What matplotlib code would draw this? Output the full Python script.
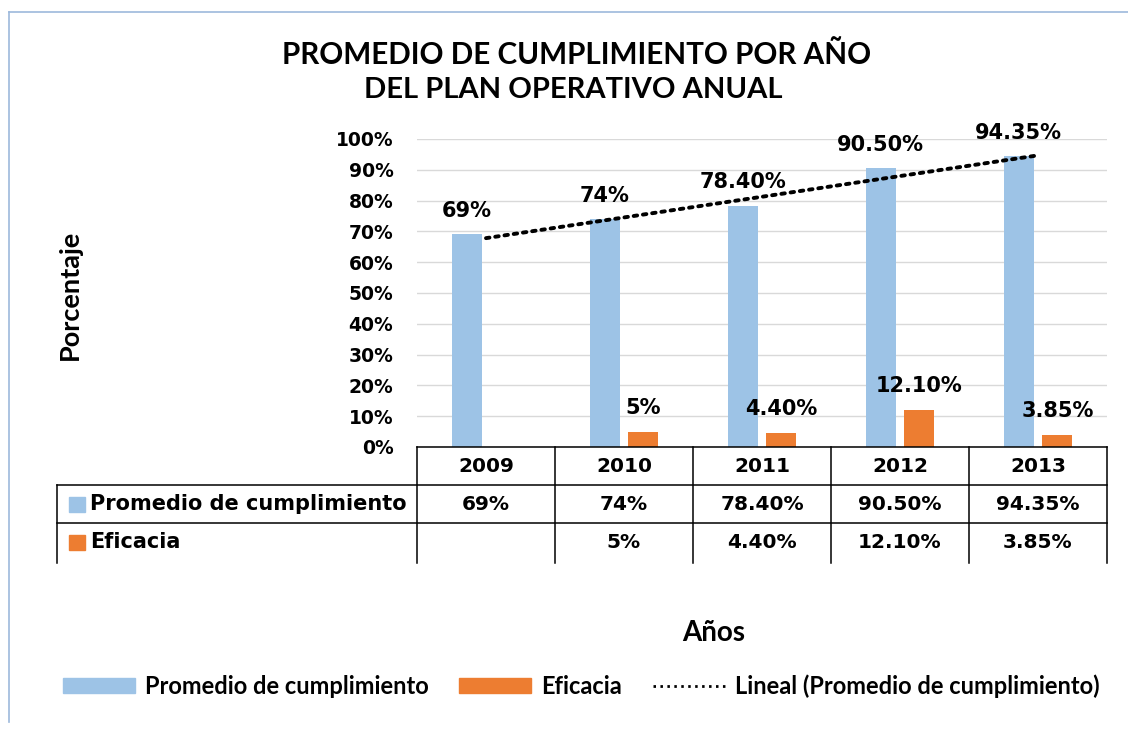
import numpy as np
import matplotlib
matplotlib.use("Agg")
import matplotlib.pyplot as plt
from matplotlib.lines import Line2D
from matplotlib.patches import Patch, Rectangle
from matplotlib.transforms import blended_transform_factory

years = ["2009", "2010", "2011", "2012", "2013"]
promedio = [69, 74, 78.4, 90.5, 94.35]
eficacia = [None, 5, 4.4, 12.1, 3.85]
promedio_txt = ["69%", "74%", "78.40%", "90.50%", "94.35%"]
eficacia_txt = ["", "5%", "4.40%", "12.10%", "3.85%"]
yticks = [0, 10, 20, 30, 40, 50, 60, 70, 80, 90, 100]

BLUE = "#9DC3E6"
ORANGE = "#ED7D31"
W, H = 1128, 730


def px(x, y):
    # pixel coords (from top-left) to figure fraction
    return x / W, 1 - y / H


fig = plt.figure(figsize=(W / 100, H / 100), dpi=100)
fig.patch.set_facecolor("white")

# outer chart border
fig.add_artist(Line2D([px(9, 0)[0]] * 2, [px(0, 12)[1], px(0, 722)[1]],
                      color="#9DB9DC", lw=1.2))
fig.add_artist(Line2D([px(9, 0)[0], 1.0], [px(0, 12)[1]] * 2,
                      color="#9DB9DC", lw=1.2))

l, b = px(417, 447)
r, t = px(1107, 139)
ax = fig.add_axes([l, b, r - l, t - b])

x = np.arange(len(years))
bw = 0.215
off = 0.14
ax.bar(x - off, promedio, width=bw, color=BLUE, zorder=2)
ef_vals = [np.nan if v is None else v for v in eficacia]
ax.bar(x + off, ef_vals, width=bw, color=ORANGE, zorder=2)

# linear trendline of promedio
k, c0 = np.polyfit(x, promedio, 1)
ax.plot(x, k * x + c0, color="black", lw=2.8, linestyle=(0, (0.9, 1.5)),
        dash_capstyle="round", zorder=3)

for i in range(len(years)):
    ax.annotate(promedio_txt[i], (x[i] - off, promedio[i]), xytext=(0, 12.5),
                textcoords="offset points", ha="center", va="baseline",
                fontsize=15, fontweight="bold", family="DejaVu Sans",
                annotation_clip=False, zorder=4)
    if eficacia[i] is not None:
        ax.annotate(eficacia_txt[i], (x[i] + off, eficacia[i]), xytext=(0, 13),
                    textcoords="offset points", ha="center", va="baseline",
                    fontsize=15, fontweight="bold", family="DejaVu Sans",
                    annotation_clip=False, zorder=4)

ax.set_xlim(-0.5, len(years) - 0.5)
ax.set_ylim(0, 100)
ax.set_yticks(yticks)
ax.set_yticklabels([f"{v}%" for v in yticks], fontsize=13.5, fontweight="bold",
                   family="DejaVu Sans")
ax.tick_params(axis="y", length=0, pad=17)
ax.set_xticks([])
ax.grid(axis="y", color="#D9D9D9", lw=1, zorder=0)
ax.set_axisbelow(True)
for s in ax.spines.values():
    s.set_visible(False)

# data table below the plot
tr = blended_transform_factory(ax.transData, fig.transFigure)
yt0, yt1, yt2, yt3 = [px(0, v)[1] for v in (447, 485, 523, 563)]
xl = px(57, 0)[0]
lk = dict(color="black", lw=1.1)
bounds = np.arange(len(years) + 1) - 0.5
ax.add_artist(Line2D([bounds[0], bounds[-1]], [yt0, yt0], transform=tr, clip_on=False, **lk))
for yy in (yt1, yt2):
    fig.add_artist(Line2D([xl, r], [yy, yy], **lk))
for bx in bounds:
    ax.add_artist(Line2D([bx, bx], [yt0, yt3], transform=tr, clip_on=False, **lk))
fig.add_artist(Line2D([xl, xl], [yt1, yt3], **lk))

tk = dict(ha="center", va="center", fontsize=14.5, fontweight="bold",
          family="DejaVu Sans", transform=tr)
for i in range(len(years)):
    ax.text(x[i], (yt0 + yt1) / 2, years[i], **tk)
    ax.text(x[i], (yt1 + yt2) / 2, promedio_txt[i], **tk)
    ax.text(x[i], (yt2 + yt3) / 2, eficacia_txt[i], **tk)

for yy, col, name in ((504, BLUE, "Promedio de cumplimiento"),
                      (542, ORANGE, "Eficacia")):
    sx, sy = px(69, yy + 8)
    fig.add_artist(Rectangle((sx, sy), 16 / W, 15 / H, color=col,
                             transform=fig.transFigure))
    fig.text(*px(90, yy), name, ha="left", va="center", fontsize=15,
             fontweight="bold", family="DejaVu Sans")

# titles and axis labels
fig.text(*px(577, 55), "PROMEDIO DE CUMPLIMIENTO POR AÑO", ha="center",
         va="center", fontsize=21.3, family="Lato", fontweight="bold")
fig.text(*px(573, 90), "DEL PLAN OPERATIVO ANUAL", ha="center", va="center",
         fontsize=21, family="Lato", fontweight="bold")
fig.text(*px(70, 295), "Porcentaje", rotation=90, ha="center", va="center",
         fontsize=19.5, family="Lato", fontweight="bold")
fig.text(*px(714, 633), "Años", ha="center", va="center", fontsize=20,
         family="Lato", fontweight="bold")

handles = [Patch(color=BLUE, label="Promedio de cumplimiento"),
           Patch(color=ORANGE, label="Eficacia"),
           Line2D([], [], color="black", lw=2, linestyle=(0, (0.9, 1.6)),
                  label="Lineal (Promedio de cumplimiento)")]
fig.legend(handles=handles, loc="center", bbox_to_anchor=px(581, 686), ncol=3,
           frameon=False, prop={"family": "Lato", "weight": "bold", "size": 17},
           handlelength=3.05, handleheight=0.55, handletextpad=0.42,
           columnspacing=1.3)

fig.savefig("out.png", dpi=100)
